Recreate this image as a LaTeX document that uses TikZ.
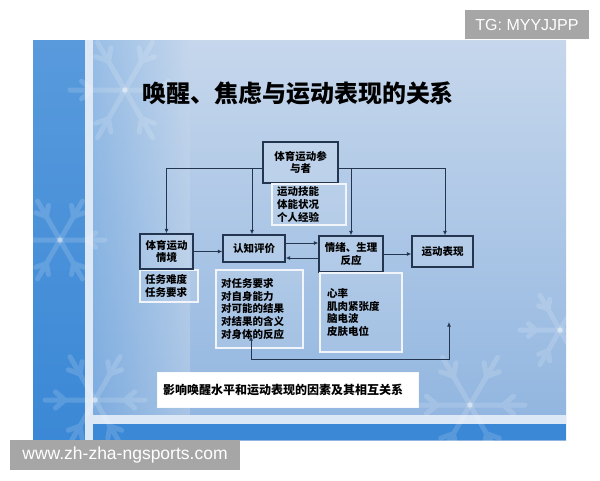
\documentclass[tikz,border=0pt]{standalone}
\usepackage{fontspec}
\setmainfont{Noto Sans CJK SC}
\newfontfamily\wmfont{Liberation Sans}
\usetikzlibrary{positioning,arrows.meta}
\definecolor{navy}{HTML}{24364F}
\definecolor{skyA}{HTML}{C6D7EC}
\definecolor{skyB}{HTML}{8FB4DF}
\definecolor{deepblue}{HTML}{3B88D6}
\definecolor{paleline}{HTML}{DCE8F6}
\definecolor{wmgrey}{HTML}{A6A6A6}

\begin{document}
\begin{tikzpicture}[x=1pt,y=-1pt,>={Latex[length=4.5pt,width=4pt]},
box/.style={draw=navy,line width=1.3pt,fill=white,fill opacity=.12,text opacity=1,inner sep=0pt,
    font=\fontsize{10.5}{12.5}\selectfont\bfseries,align=center,text=black},
note/.style={draw=white!75!skyA,line width=1.2pt,fill=white,fill opacity=.1,text opacity=1,
    inner xsep=5pt,inner ysep=0pt,font=\fontsize{10.5}{12.8}\selectfont\bfseries,align=left,text=black},
conn/.style={draw=navy,line width=1pt},
flake/.style={white,opacity=.15,line width=5pt,line cap=round},
wm/.style={fill=wmgrey,text=white,inner sep=0pt}]
\useasboundingbox (0,0) rectangle (600,480);
\fill[white] (0,0) rectangle (600,480);
\shade[top color=skyA,bottom color=skyB] (33,40) rectangle (566,440);
\shade[left color=deepblue!80,right color=skyA,opacity=.45] (93,40) rectangle (190,440);
\shade[top color=deepblue!85!white,bottom color=deepblue] (33,40) rectangle (85,440);
\fill[paleline] (85,40) rectangle (93,440);
\fill[paleline] (93,415) rectangle (566,424);
\fill[deepblue] (93,424) rectangle (566,440);
\begin{scope}
\clip (33,40) rectangle (566,440);
\foreach \cx/\cy/\rad in {125/90/55, 60/240/45, 95/400/50, 470/405/55, 560/330/40} {
  \foreach \a in {0,60,...,300} {
    \draw[flake] (\cx,\cy) -- ++(\a:\rad) ++(\a+180:.4*\rad) -- ++(\a+40:.25*\rad)
      ++(\a+220:.25*\rad) -- ++(\a-40:.25*\rad);
  }
}
\end{scope}

\node (title) at (298,93) {\fontsize{24}{27}\selectfont\bfseries 唤醒、焦虑与运动表现的关系};

\node (part) [box,minimum width=75pt,minimum height=41pt] at (300.5,162.5) {体育运动参\\与者};
\node (skills) [note,text width=64pt,minimum height=41pt] at (309,204.5) {运动技能\\体能状况\\个人经验};
\node (task) [note,text width=48pt,minimum height=32pt] at (169,286) {任务难度\\任务要求};
\node (sit) [box,minimum width=53pt,minimum height=35pt] at (166.5,251.5) {体育运动\\情境};
\node (cog) [box,minimum width=62pt,minimum height=27pt] at (254,248.5) {认知评价};
\node (emo) [box,minimum width=64pt,minimum height=36pt] at (351,254) {情绪、生理\\反应};
\node (perf) [box,minimum width=61pt,minimum height=31pt] at (442.5,251.5) {运动表现};
\node (appr) [note,text width=77pt,minimum height=78pt] at (259.5,309)
    {对任务要求\\对自身能力\\对可能的结果\\对结果的含义\\对身体的反应};
\node (phys) [note,inner xsep=7pt,text width=68pt,minimum height=79pt] at (361,312.5)
    {心率\\肌肉紧张度\\脑电波\\皮肤电位};
\node (cap) [fill=white,draw=white!85!skyA,minimum width=261pt,minimum height=35pt,inner xsep=6pt,
    text width=249pt,align=left,font=\fontsize{12}{14}\selectfont\bfseries] at (287.5,389.5)
    {影响唤醒水平和运动表现的因素及其相互关系};

\draw[conn,->] ([yshift=-5.5pt]part.west) -| (sit.north);
\draw[conn,->] ([yshift=-5.5pt]part.west) -| ([xshift=-2pt]cog.north);
\draw[conn,->] ([yshift=-5.5pt]part.east) -| (emo.north);
\draw[conn,->] ([yshift=-5.5pt]part.east) -| ([xshift=2.5pt]perf.north);
\draw[conn,->] (sit.east) -- (sit.east -| cog.west);
\draw[conn,->] ([yshift=5.5pt]cog.east) -- ([yshift=5.5pt]cog.east -| emo.west);
\draw[conn,->] ([yshift=-4pt]emo.west) -- ([yshift=-4pt]emo.west -| cog.east);
\draw[conn,->] (emo.east) -- (emo.east -| perf.west);
\coordinate (fa) at (251,336);
\coordinate (fl) at (251,359);
\coordinate (fb) at (449,322);
\draw[conn,<->] (fa) -- (fl) -| (fb);

\node (tg) [wm,minimum width=124pt,minimum height=29pt,font=\wmfont\fontsize{16}{18}\selectfont] at (527,24.5) {TG: MYYJJPP};
\node (www) [wm,minimum width=230pt,minimum height=30pt,font=\wmfont\fontsize{17.5}{20}\selectfont] at (125,455) {www.zh-zha-ngsports.com};
\end{tikzpicture}
\end{document}
